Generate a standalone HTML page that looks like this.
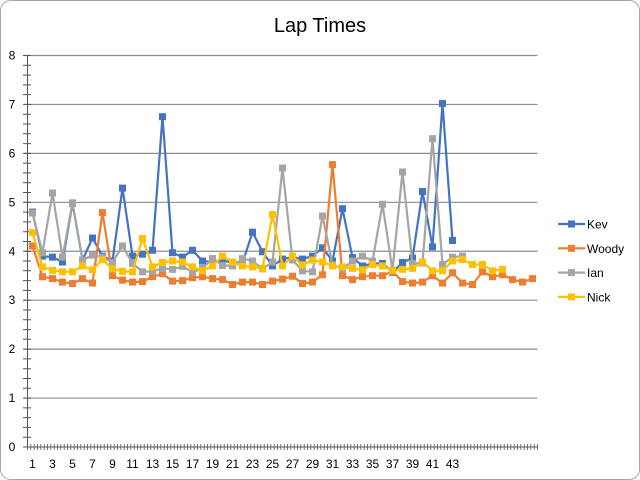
<!DOCTYPE html>
<html><head><meta charset="utf-8"><style>
body{margin:0;background:#fff;}
svg{display:block;font-family:"Liberation Sans",sans-serif;}
</style></head><body>
<svg id="chart" width="640" height="480" viewBox="0 0 640 480" xmlns="http://www.w3.org/2000/svg">
<rect x="0.5" y="0.5" width="639" height="479" rx="10" ry="10" fill="#fff" stroke="#a6a6a6"/>
<text x="320" y="32" text-anchor="middle" font-size="20" fill="#000">Lap Times</text>
<g id="grid"></g><g id="axes"></g><g id="series"></g><g id="legend"></g>
</svg>
<script>
const categories = Array.from({length:51},(_, i)=>String(i+1));
const xLabels = ["1","3","5","7","9","11","13","15","17","19","21","23","25","27","29","31","33","35","37","39","41","43"];
const yTicks = [0,1,2,3,4,5,6,7,8];
const seriesNames = ["Kev","Woody","Ian","Nick"];
const kev = [4.8,3.9,3.88,3.78,4.98,3.82,4.27,3.9,3.8,5.29,3.9,3.94,4.02,6.75,3.97,3.88,4.02,3.8,3.78,3.8,3.78,3.76,4.39,3.99,3.7,3.84,3.88,3.84,3.9,4.07,3.8,4.87,3.87,3.7,3.75,3.75,3.57,3.77,3.86,5.22,4.09,7.02,4.22];
const woody = [4.11,3.48,3.44,3.37,3.34,3.44,3.35,4.79,3.5,3.41,3.37,3.38,3.48,3.54,3.39,3.4,3.46,3.48,3.44,3.42,3.32,3.37,3.37,3.32,3.39,3.43,3.49,3.34,3.37,3.52,5.77,3.5,3.42,3.48,3.5,3.5,3.59,3.38,3.35,3.37,3.5,3.35,3.56,3.35,3.32,3.58,3.48,3.52,3.42,3.37,3.44];
const ian = [4.78,3.97,5.19,3.88,4.99,3.82,3.92,3.88,3.77,4.11,3.75,3.58,3.59,3.65,3.63,3.69,3.57,3.65,3.85,3.71,3.7,3.85,3.8,3.64,3.78,5.7,3.82,3.6,3.58,4.72,3.72,3.64,3.8,3.9,3.8,4.96,3.61,5.62,3.75,3.76,6.3,3.73,3.88,3.9];
const nick = [4.38,3.68,3.61,3.58,3.58,3.7,3.62,3.83,3.64,3.59,3.58,4.26,3.68,3.77,3.8,3.78,3.68,3.6,3.7,3.9,3.78,3.7,3.68,3.65,4.75,3.7,3.9,3.72,3.82,3.78,3.7,3.68,3.65,3.62,3.73,3.7,3.6,3.63,3.65,3.78,3.6,3.6,3.8,3.83,3.73,3.73,3.6,3.63];
const colors = ["#4472c4","#ed7d31","#a5a5a5","#ffc000"];
const NS="http://www.w3.org/2000/svg";
const x0=27.5,x1=537.5,yTop=55.5,yBot=447;
const step=(x1-x0)/categories.length;
function xPos(i){return x0+step*(i+0.5);}
function yPos(v){return yBot-(v/8)*(yBot-yTop);}
function mk(tag,attrs,parent){const e=document.createElementNS(NS,tag);for(const k in attrs)e.setAttribute(k,attrs[k]);parent.appendChild(e);return e;}
const grid=document.getElementById('grid'),axes=document.getElementById('axes'),ser=document.getElementById('series'),leg=document.getElementById('legend');
yTicks.forEach(t=>{
  const y=yPos(t);
  if(t>0){const g=mk('line',{x1:24,x2:x1,y1:y,y2:y,stroke:'#8c8c8c','stroke-width':1.2},grid);
  
  }
  const tx=mk('text',{x:12,y:y+4,'text-anchor':'middle','font-size':12,fill:'#000'},axes);
  
  
  tx.textContent=t;
});
// minor y ticks
let yt='';
for(let v=0;v<=8.001;v+=0.2){const y=yPos(v).toFixed(1);yt+=`M23 ${y}H31`;}
const ytp=mk('path',{d:yt,stroke:'#555','stroke-width':1},axes);


const ya=mk('line',{x1:x0,x2:x0,y1:yTop,y2:yBot,stroke:'#555'},axes);


const xa=mk('line',{x1:24,x2:x1,y1:yBot,y2:yBot,stroke:'#555'},axes);


let xt='';
for(let i=0;i<=categories.length*3;i++){const x=(x0+i*step/3).toFixed(1);xt+=`M${x} ${yBot-3}V${yBot+3}`;}
const xtp=mk('path',{d:xt,stroke:'#555','stroke-width':0.8},axes);


xLabels.forEach(l=>{
  const i=categories.indexOf(l);
  const tx=mk('text',{x:xPos(i),y:468,'text-anchor':'middle','font-size':12,fill:'#000'},axes);
  
  
  tx.textContent=l;
});
[kev,woody,ian,nick].forEach((data,s)=>{
  const g=mk('g',{},ser);
  
  
  const pts=data.map((v,i)=>xPos(i).toFixed(1)+','+yPos(v).toFixed(1)).join(' ');
  const pl=mk('polyline',{points:pts,fill:'none',stroke:colors[s],'stroke-width':2.2,'stroke-linejoin':'round'},g);
  
  
  data.forEach((v,i)=>{
    const r=mk('rect',{x:xPos(i)-3.5,y:yPos(v)-3.5,width:7,height:7,fill:colors[s]},g);
    
    
  });
});
seriesNames.forEach((n,s)=>{
  const y=224+s*24.3;
  const g=mk('g',{},leg);
  
  
  mk('line',{x1:558,x2:585,y1:y,y2:y,stroke:colors[s],'stroke-width':2.2},g);
  mk('rect',{x:568,y:y-3.5,width:7,height:7,fill:colors[s]},g);
  const t=mk('text',{x:587,y:y+4.5,'font-size':12,fill:'#000'},g);
  t.textContent=n;
});
</script>
</body></html>
